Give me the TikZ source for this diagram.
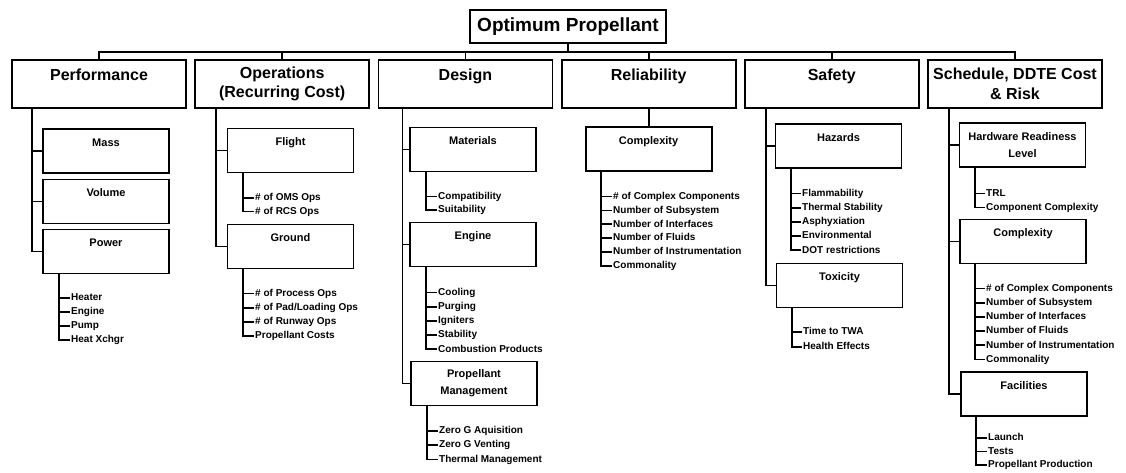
\documentclass[tikz,border=0pt]{standalone}
\usepackage{fontspec}
\setmainfont{Liberation Sans}
\usetikzlibrary{positioning}

\begin{document}
\begin{tikzpicture}[
		x=1pt, y=1pt,
		node distance=7.4pt,
		conn/.style={line width=1.8pt},
		goal/.style={draw, line width=1.8pt, rectangle, minimum width=196pt, minimum height=33pt, inner sep=3pt, font=\fontsize{19}{22}\selectfont\bfseries},
		crit/.style={draw, line width=1.8pt, rectangle, minimum width=174pt, minimum height=48pt, align=center, font=\fontsize{16}{19.5}\selectfont\bfseries},
		sub/.style={draw, line width=1.8pt, rectangle, minimum width=126pt, minimum height=44pt, align=center, font=\fontsize{11}{17}\selectfont\bfseries},
		leaf/.style={anchor=west, inner xsep=1pt, inner ysep=0pt, text height=7.5pt, text depth=2pt, font=\fontsize{10}{12}\selectfont\bfseries}
		]
		\useasboundingbox (0,0) rectangle (1126,-472);
		
		% 1. Goal
		\node[goal] (top) at (568,-26.5) {Optimum Propellant};
		\coordinate (bus) at ([yshift=-8pt]top.south);
		
		% 2. Criteria
		\node[crit] (perf) at (99,-84) {Performance\\~};
		\node[crit] (ops) [right=of perf] {Operations\\(Recurring Cost)};
		\node[crit] (design) [right=of ops] {Design\\~};
		\node[crit] (rel) [right=of design] {Reliability\\~};
		\node[crit] (safety) [right=of rel] {Safety\\~};
		\node[crit] (sched) [right=of safety] {Schedule, DDTE Cost\\\& Risk};
		
		% Bus from the goal
		\draw[conn] (top) -- (bus);
		\draw[conn] (bus) -| (perf);
		\draw[conn] (bus) -| (ops);
		\draw[conn] (bus) -| (design);
		\draw[conn] (bus) -| (rel);
		\draw[conn] (bus) -| (safety);
		\draw[conn] (bus) -| (sched);
		
		% 3. Sub-criteria
		\node[sub] (mass) at (106,-151) {Mass\\~};
		\node[sub] (volume) at (106,-201.5) {Volume\\~};
		\node[sub] (power) at (106,-251.5) {Power\\~};
		\node[sub] (flight) at (290.5,-150.5) {Flight\\~};
		\node[sub] (ground) at (290.5,-246.5) {Ground\\~};
		\node[sub] (mater) at (473,-149.5) {Materials\\~};
		\node[sub] (engine) at (473,-244.5) {Engine\\~};
		\node[sub] (propmgt) at (474,-383.5) {Propellant\\Management};
		\node[sub] (relcplx) [below=17pt of rel] {Complexity\\~};
		\node[sub] (hazards) at (838.5,-146) {Hazards\\~};
		\node[sub] (toxic) at (839.5,-285.5) {Toxicity\\~};
		\node[sub] (hrl) at (1022.5,-145) {Hardware Readiness\\Level};
		\node[sub] (schcplx) at (1023,-241.5) {Complexity\\~};
		\node[sub] (facil) at (1024,-394) {Facilities\\~};
		
		% Trunks below the criteria
		\coordinate (perf-t) at ([xshift=21pt]perf.south west);
		\coordinate (ops-t) at ([xshift=22pt]ops.south west);
		\coordinate (design-t) at ([xshift=25pt]design.south west);
		\coordinate (safety-t) at ([xshift=22pt]safety.south west);
		\coordinate (sched-t) at ([xshift=22pt]sched.south west);
		
		\draw[conn] (perf-t) |- (mass.west);
		\draw[conn] (perf-t) |- (volume.west);
		\draw[conn] (perf-t) |- (power.west);
		\draw[conn] (ops-t) |- (flight.west);
		\draw[conn] (ops-t) |- (ground.west);
		\draw[conn] (design-t) |- (mater.west);
		\draw[conn] (design-t) |- (engine.west);
		\draw[conn] (design-t) |- (propmgt.west);
		\draw[conn] (rel) -- (relcplx);
		\draw[conn] (safety-t) |- (hazards.west);
		\draw[conn] (safety-t) |- (toxic.west);
		\draw[conn] (sched-t) |- (hrl.west);
		\draw[conn] (sched-t) |- (schcplx.west);
		\draw[conn] (sched-t) |- (facil.west);
		
		% 4. Measures
		\coordinate (pwr-t) at ([xshift=17pt]power.south west);
		\foreach \txt [count=\i] in {Heater, Engine, Pump, Heat Xchgr} {
			\node[leaf] (pwr\i) at (70,{-298-14*(\i-1)}) {\txt};
			\draw[conn] (pwr-t) |- (pwr\i.west);
		}
		
		\coordinate (flt-t) at ([xshift=16pt]flight.south west);
		\foreach \txt [count=\i] in {\# of OMS Ops, \# of RCS Ops} {
			\node[leaf] (flt\i) at (254,{-198-13.5*(\i-1)}) {\txt};
			\draw[conn] (flt-t) |- (flt\i.west);
		}
		
		\coordinate (gnd-t) at ([xshift=16pt]ground.south west);
		\foreach \txt [count=\i] in {\# of Process Ops, \# of Pad/Loading Ops, \# of Runway Ops, Propellant Costs} {
			\node[leaf] (gnd\i) at (254,{-293.5-14.2*(\i-1)}) {\txt};
			\draw[conn] (gnd-t) |- (gnd\i.west);
		}
		
		\coordinate (mat-t) at ([xshift=17pt]mater.south west);
		\foreach \txt [count=\i] in {Compatibility, Suitability} {
			\node[leaf] (mat\i) at (437,{-196.5-13.5*(\i-1)}) {\txt};
			\draw[conn] (mat-t) |- (mat\i.west);
		}
		
		\coordinate (eng-t) at ([xshift=17pt]engine.south west);
		\foreach \txt [count=\i] in {Cooling, Purging, Igniters, Stability, Combustion Products} {
			\node[leaf] (eng\i) at (437,{-292.5-14.2*(\i-1)}) {\txt};
			\draw[conn] (eng-t) |- (eng\i.west);
		}
		
		\coordinate (pm-t) at ([xshift=17pt]propmgt.south west);
		\foreach \txt [count=\i] in {Zero G Aquisition, Zero G Venting, Thermal Management} {
			\node[leaf] (pm\i) at (438,{-431-14.2*(\i-1)}) {\txt};
			\draw[conn] (pm-t) |- (pm\i.west);
		}
		
		\coordinate (rel-t) at ([xshift=16pt]relcplx.south west);
		\foreach \txt [count=\i] in {\# of Complex Components, Number of Subsystem, Number of Interfaces, Number of Fluids, Number of Instrumentation, Commonality} {
			\node[leaf] (rel\i) at (612,{-196.5-13.9*(\i-1)}) {\txt};
			\draw[conn] (rel-t) |- (rel\i.west);
		}
		
		\coordinate (haz-t) at ([xshift=16pt]hazards.south west);
		\foreach \txt [count=\i] in {Flammability, Thermal Stability, Asphyxiation, Environmental, DOT restrictions} {
			\node[leaf] (haz\i) at (801,{-193.5-14.2*(\i-1)}) {\txt};
			\draw[conn] (haz-t) |- (haz\i.west);
		}
		
		\coordinate (tox-t) at ([xshift=16pt]toxic.south west);
		\foreach \txt [count=\i] in {Time to TWA, Health Effects} {
			\node[leaf] (tox\i) at (802,{-332-15*(\i-1)}) {\txt};
			\draw[conn] (tox-t) |- (tox\i.west);
		}
		
		\coordinate (hrl-t) at ([xshift=16pt]hrl.south west);
		\foreach \txt [count=\i] in {TRL, Component Complexity} {
			\node[leaf] (hrl\i) at (985,{-193.5-14*(\i-1)}) {\txt};
			\draw[conn] (hrl-t) |- (hrl\i.west);
		}
		
		\coordinate (scx-t) at ([xshift=16pt]schcplx.south west);
		\foreach \txt [count=\i] in {\# of Complex Components, Number of Subsystem, Number of Interfaces, Number of Fluids, Number of Instrumentation, Commonality} {
			\node[leaf] (scx\i) at (985,{-288.5-14.2*(\i-1)}) {\txt};
			\draw[conn] (scx-t) |- (scx\i.west);
		}
		
		\coordinate (fac-t) at ([xshift=16pt]facil.south west);
		\foreach \txt [count=\i] in {Launch, Tests, Propellant Production} {
			\node[leaf] (fac\i) at (987,{-438-13.5*(\i-1)}) {\txt};
			\draw[conn] (fac-t) |- (fac\i.west);
		}
		
	\end{tikzpicture}
\end{document}
